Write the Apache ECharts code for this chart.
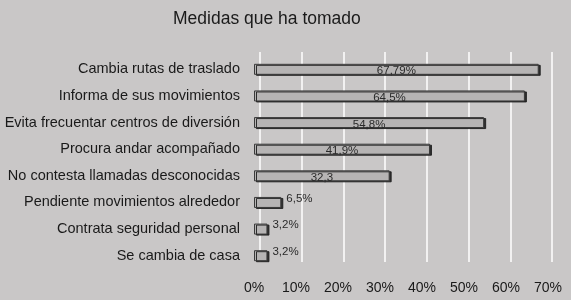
<!DOCTYPE html>
<html><head><meta charset="utf-8">
<script src="https://cdn.jsdelivr.net/npm/echarts@6/dist/echarts.min.js"></script>
<style>html,body{margin:0;padding:0;background:#c9c7c7;}#c{width:571px;height:300px;}</style>
</head><body><div id="c"></div>
<script>
const categories = ["Cambia rutas de traslado","Informa de sus movimientos","Evita frecuentar centros de diversión","Procura andar acompañado","No contesta llamadas desconocidas","Pendiente movimientos alrededor","Contrata seguridad personal","Se cambia de casa"];
const values = [67.79, 64.5, 54.8, 41.9, 32.3, 6.5, 3.2, 3.2];
const labels = ["67,79%","64,5%","54,8%","41,9%","32,3","6,5%","3,2%","3,2%"];
const ticks = [0,10,20,30,40,50,60,70];
const font = "Liberation Sans, Arial, sans-serif";
const chart = echarts.init(document.getElementById('c'));
chart.setOption({
  backgroundColor: '#c9c7c7',
  animation: false,
  title: {text: 'Medidas que ha tomado', left: 168, top: 5, textStyle: {fontFamily: font, fontSize: 17.5, fontWeight: 'normal', color: '#1a1a1a'}},
  grid: [
    {left: 254, right: 23, top: 56, height: 213},
    {left: 260, right: 19, top: 52, bottom: 38}
  ],
  xAxis: [
    {gridIndex: 0, type: 'value', min: 0, max: 70, interval: 10,
     axisLine: {show: false}, axisTick: {show: false}, splitLine: {show: false},
     axisLabel: {fontFamily: font, fontSize: 14, color: '#1a1a1a', margin: 12, formatter: v => v + '%'}},
    {gridIndex: 1, type: 'value', min: 0, max: 70, interval: 10,
     axisLine: {show: false}, axisTick: {show: false}, axisLabel: {show: false},
     splitLine: {show: true, lineStyle: {color: '#ffffff', width: 1.5}}}
  ],
  yAxis: [
    {gridIndex: 0, type: 'category', inverse: true, data: categories,
     axisLine: {show: false}, axisTick: {show: false},
     axisLabel: {fontFamily: font, fontSize: 14.5, color: '#1a1a1a', margin: 14}},
    {gridIndex: 1, type: 'category', data: categories, show: false}
  ],
  series: [{
    type: 'bar', xAxisIndex: 0, yAxisIndex: 0,
    data: values.map((v, i) => ({value: v, label: {
      position: v < 10 ? 'right' : 'inside',
      offset: v < 10 ? [0, -4] : [0, 2],
      formatter: labels[i]}})),
    barWidth: 11,
    itemStyle: {color: '#b6b4b4', borderColor: '#3a3a3a', borderWidth: 1,
      shadowColor: 'rgba(30,30,30,0.9)', shadowOffsetX: 2, shadowOffsetY: 1, shadowBlur: 0},
    label: {show: true, fontFamily: font, fontSize: 11.5, color: '#2a2a2a'}
  }]
});
</script></body></html>
